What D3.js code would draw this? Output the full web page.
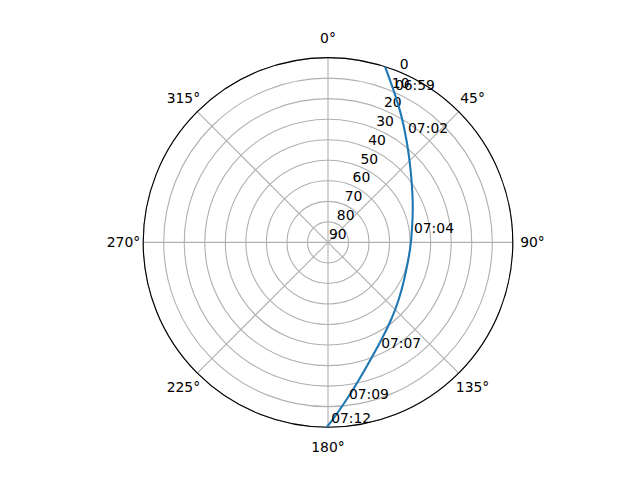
<!DOCTYPE html>
<html>
<head>
<meta charset="utf-8">
<script src="https://cdn.jsdelivr.net/npm/d3@7"></script>
<style>
  body { margin: 0; background: #fff; }
  text { font-family: "DejaVu Sans", sans-serif; font-size: 13.9px; fill: #000; }
</style>
</head>
<body>
<script>
// pass track: azimuth (deg, clockwise from north) and elevation (deg)
let track_az = [18.0, 23.3, 27.6, 32.3, 37.5, 42.8, 50.2, 54.7, 63.4, 73.3, 88.4, 95.3,
    102.4, 116.2, 129.1, 140.8, 151.3, 160.2, 167.3, 173.3, 178.5, 180.4]
let track_el = [0.0, 9.2, 15.4, 21.4, 27.2, 32.0, 37.4, 40.0, 43.8, 46.9, 49.4, 49.9,
    50.0, 48.6, 45.5, 41.2, 35.8, 29.1, 21.3, 12.7, 3.5, 0.0]

// time labels along the track
let time_labels = ["06:59", "07:02", "07:04", "07:07", "07:09", "07:12"]
let time_az = [23.7, 36.2, 83.8, 153.3, 172.4, 179.0]
let time_el = [8.9, 24.0, 47.9, 32.4, 13.0, 2.0]

let r_ticks = [0, 10, 20, 30, 40, 50, 60, 70, 80, 90]
let theta_ticks = [0, 45, 90, 135, 180, 225, 270, 315]

let width = 640;
let height = 480;
let cx = 328;
let cy = 242.4;
let R = 184.8;
let rLabelAngle = 22.5;

let svg = d3.select("body")
            .append("svg")
            .attr("width", width)
            .attr("height", height)

let g = svg.append("g")
           .attr("transform", "translate(" + cx + "," + cy + ")")

// elevation 90 in the middle, 0 on the rim
let r = d3.scaleLinear().domain([90, 0]).range([0, R])
let rad = d => d * Math.PI / 180

// circles of the radial grid
g.selectAll("circle.grid")
 .data(r_ticks.filter(t => t != 90))
 .enter()
 .append("circle")
 .attr("class", "grid")
 .attr("r", d => r(d))
 .attr("fill", "none")
 .attr("stroke", "#b0b0b0")
 .attr("stroke-width", 1.1)

// spokes
g.selectAll("line.spoke")
 .data(theta_ticks)
 .enter()
 .append("line")
 .attr("class", "spoke")
 .attr("x1", 0).attr("y1", 0)
 .attr("x2", d => R * Math.sin(rad(d)))
 .attr("y2", d => -R * Math.cos(rad(d)))
 .attr("stroke", "#b0b0b0")
 .attr("stroke-width", 1.1)

// outer rim
g.append("circle")
 .attr("r", R)
 .attr("fill", "none")
 .attr("stroke", "#000")
 .attr("stroke-width", 1.1)

// angle labels
g.selectAll("text.theta")
 .data(theta_ticks)
 .enter()
 .append("text")
 .attr("class", "theta")
 .attr("x", d => (R + 19.7) * Math.sin(rad(d)))
 .attr("y", d => -(R + 19.7) * Math.cos(rad(d)))
 .attr("dy", "0.36em")
 .attr("text-anchor", "middle")
 .text(d => d + "°")

// elevation labels
g.selectAll("text.rlab")
 .data(r_ticks)
 .enter()
 .append("text")
 .attr("class", "rlab")
 .attr("x", d => r(d) * Math.sin(rad(rLabelAngle)) + 1)
 .attr("y", d => -r(d) * Math.cos(rad(rLabelAngle)) - 3)
 .text(d => d)

let line = d3.lineRadial()
             .angle((d, i) => rad(track_az[i]))
             .radius((d, i) => r(track_el[i]))
             .curve(d3.curveBasis)

g.append("path")
 .datum(track_az)
 .attr("d", line)
 .attr("fill", "none")
 .attr("stroke", "#1f77b4")
 .attr("stroke-width", 2.1)

g.selectAll("text.time")
 .data(time_labels)
 .enter()
 .append("text")
 .attr("class", "time")
 .attr("x", (d, i) => r(time_el[i]) * Math.sin(rad(time_az[i])))
 .attr("y", (d, i) => -r(time_el[i]) * Math.cos(rad(time_az[i])))
 .text(d => d)
</script>
</body>
</html>
